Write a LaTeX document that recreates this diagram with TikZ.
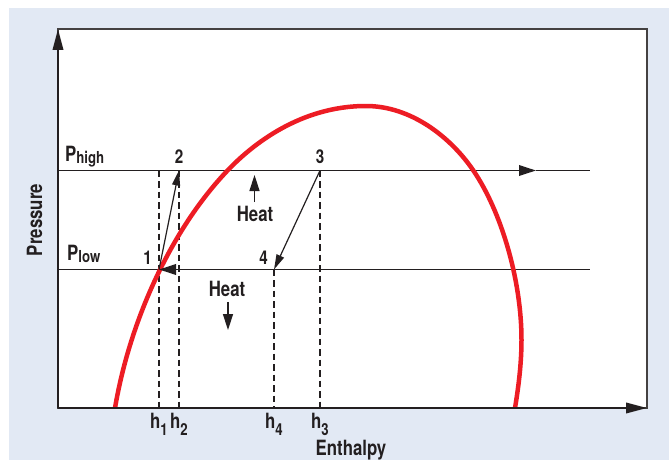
\documentclass[tikz,border=0pt]{standalone}
\usepackage{fontspec}
\setmainfont{TeX Gyre Heros}[FakeStretch=0.8]
\usetikzlibrary{arrows.meta, positioning}
\definecolor{panelblue}{RGB}{226, 233, 244}
\definecolor{inkdark}{RGB}{35, 31, 32}
\definecolor{domered}{RGB}{237, 28, 36}
\newcommand{\subsc}[2][-2.5pt]{\raisebox{#1}{\fontsize{16.5}{16.5}\selectfont #2}}
\tikzset{
    axis/.style={draw=inkdark, line width=2pt, -{Triangle[length=21pt, width=10.5pt]}},
    isobar/.style={draw=inkdark, line width=1.8pt},
    flowtip/.style={-{Triangle[length=17pt, width=10.5pt]}},
    guide/.style={draw=inkdark, line width=2pt, dash pattern=on 6.5pt off 4pt},
    arrow/.style={draw=inkdark, line width=1.2pt, -{Triangle[length=15pt, width=8pt]}},
    heatflow/.style={draw=inkdark, line width=1.5pt, -{Triangle[length=16pt, width=10pt]}},
    dome/.style={draw=domered, line width=4.5pt},
    label/.style={inner sep=0pt, text=inkdark, font=\fontsize{21}{21}\selectfont\bfseries},
    state/.style={inner sep=0pt, text=inkdark, font=\fontsize{19}{19}\selectfont\bfseries}
}

\begin{document}
\begin{tikzpicture}[x=1pt, y=-1pt]
    \useasboundingbox (0,0) rectangle (669,460);
    \fill[panelblue] (9,8) rectangle (669,460);
    \filldraw[fill=white, draw=inkdark!85, line width=1.2pt] (58,29) rectangle (647,408);

    \coordinate (O) at (58,408);
    \coordinate (ytop) at (58,29);
    \coordinate (xend) at (647,408);
    \coordinate (hiL) at (58,170.5);
    \coordinate (hiR) at (590,170.5);
    \coordinate (hitip) at (536,170.5);
    \coordinate (loL) at (58,269.5);
    \coordinate (loR) at (590,269.5);
    \coordinate (p1) at (159,269.5);
    \coordinate (p2) at (179,170.5);
    \coordinate (p3) at (320,170.5);
    \coordinate (p4) at (274,269.5);
    \coordinate (q2) at (p2 |- p1);
    \coordinate (b1) at (p1 |- O);
    \coordinate (b2) at (p2 |- O);
    \coordinate (b3) at (p3 |- O);
    \coordinate (b4) at (p4 |- O);
    \coordinate (warm) at (254.5,175);
    \coordinate (cold) at (228,330);

    \draw[guide] (p1 |- p2) -- (b1);
    \draw[guide] (p2) -- (b2);
    \draw[guide] (p3) -- (b3);
    \draw[guide] (p4) -- (b4);

    \draw[isobar, flowtip] (hiL) -- (hitip);
    \draw[isobar] (hitip) -- (hiR);
    \draw[isobar] (loL) -- (loR);

    \draw[dome] (115,408) .. controls (130.3,318) and (172.8,227.6) .. (228,170)
        .. controls (252,145) and (300,106) .. (366,106)
        .. controls (411,106) and (450.4,137) .. (473,170)
        .. controls (501.3,211.3) and (521.5,280) .. (521.5,340)
        .. controls (521.5,365) and (518,390) .. (515,408);

    \draw[isobar, flowtip] (q2) -- (p1);
    \draw[arrow] (p1) -- (p2);
    \draw[arrow] (p3) -- (p4);

    \draw[axis] (O) -- (ytop);
    \draw[axis] (O) -- (xend);

    \node (phigh) [label, anchor=base west] at (65,161) {P\subsc{high}};
    \node (plow) [label, anchor=base west] at (67,260) {P\subsc{low}};
    \node (n1) [state, above left=5pt and 7pt of p1] {1};
    \node (n2) [state, above=6.5pt of p2] {2};
    \node (n3) [state, above=7pt of p3] {3};
    \node (n4) [state, above left=5pt and 6pt of p4] {4};

    \node (heatup) [label] at (255,214) {Heat};
    \node (heatdn) [label] at (227,289) {Heat};
    \draw[heatflow] ([yshift=4pt]heatup.north -| warm) -- (warm);
    \draw[heatflow] ([yshift=-5pt]heatdn.south -| cold) -- (cold);

    \node (h1) [label, below=5pt of b1] {h\subsc[-7pt]{1}};
    \node (h2) [label, below=5pt of b2] {h\subsc[-7pt]{2}};
    \node (h4) [label, below=5pt of b4] {h\subsc[-7pt]{4}};
    \node (h3) [label, below=5pt of b3] {h\subsc[-7pt]{3}};
    \node (xlabel) [label, anchor=north] at (351,440) {Enthalpy};
    \node (ylabel) [label, rotate=90, anchor=base] at (42,220) {Pressure};
\end{tikzpicture}
\end{document}
